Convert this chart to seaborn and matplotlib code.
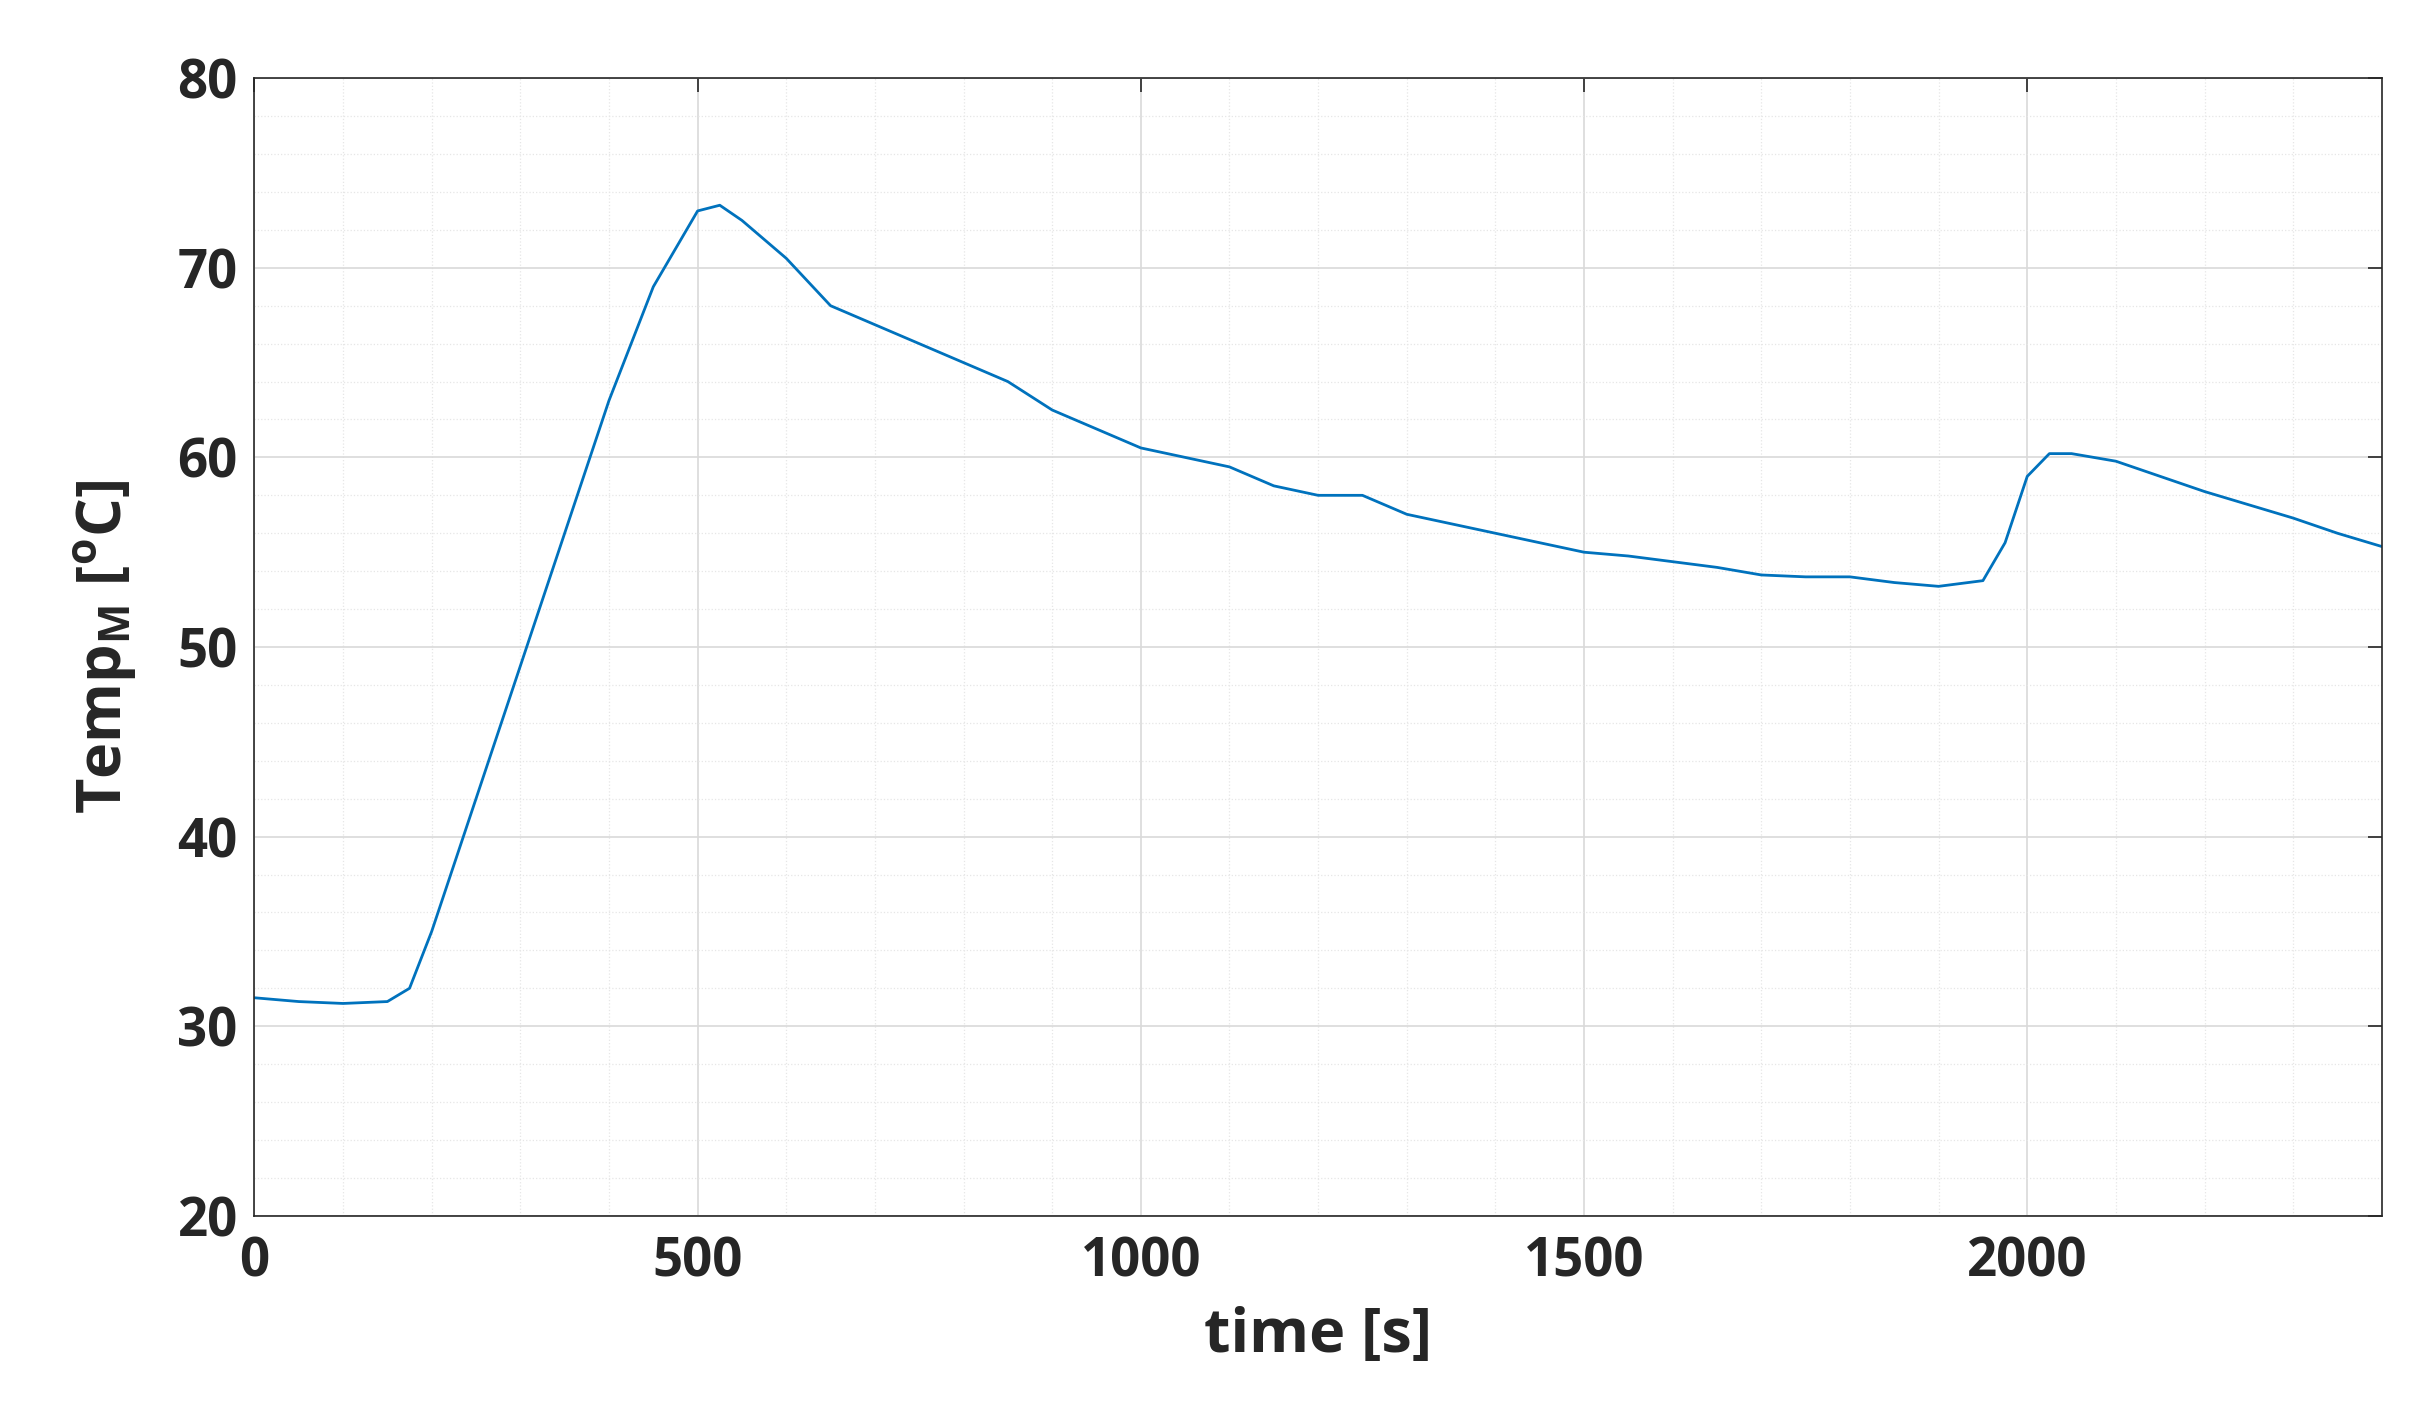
import matplotlib
matplotlib.use("Agg")
import matplotlib.pyplot as plt
import seaborn as sns
import pandas as pd
from matplotlib.ticker import MultipleLocator

time_s = [0,50,100,150,175,200,250,300,350,400,450,500,525,550,600,650,700,750,800,850,900,950,1000,1050,1100,1150,1200,1250,1300,1350,1400,1450,1500,1550,1600,1650,1700,1750,1800,1850,1900,1950,1975,2000,2025,2050,2100,2150,2200,2250,2300,2350,2400]
temp_c = [31.5,31.3,31.2,31.3,32.0,35.0,42.0,49.0,56.0,63.0,69.0,73.0,73.3,72.5,70.5,68.0,67.0,66.0,65.0,64.0,62.5,61.5,60.5,60.0,59.5,58.5,58.0,58.0,57.0,56.5,56.0,55.5,55.0,54.8,54.5,54.2,53.8,53.7,53.7,53.4,53.2,53.5,55.5,59.0,60.2,60.2,59.8,59.0,58.2,57.5,56.8,56.0,55.3]

df = pd.DataFrame({"t": time_s, "T": temp_c})
sns.set_style("white")
plt.rcParams['font.family'] = ['Open Sans', 'DejaVu Sans']
plt.rcParams['mathtext.fontset'] = 'custom'
plt.rcParams['mathtext.bf'] = 'Open Sans:bold'
plt.rcParams['mathtext.rm'] = 'Open Sans:bold'
fig = plt.figure(figsize=(24.23, 14.22), dpi=100)
ax = fig.add_axes([0.105, 0.145, 0.878, 0.80])
sns.lineplot(data=df, x="t", y="T", ax=ax, color="#0072BD", linewidth=2)
ax.set_xlim(0, 2400); ax.set_ylim(20, 80)
ax.xaxis.set_major_locator(MultipleLocator(500)); ax.xaxis.set_minor_locator(MultipleLocator(100))
ax.yaxis.set_major_locator(MultipleLocator(10)); ax.yaxis.set_minor_locator(MultipleLocator(2))
ax.grid(which="major", color="#d9d9d9", linewidth=1.2)
ax.grid(which="minor", color="#e6e6e6", linewidth=0.9, linestyle=":")
for s in ax.spines.values():
    s.set_color("#262626"); s.set_linewidth(1.2)
ax.tick_params(which="both", direction="in", top=True, right=True, labelsize=38, length=10, width=1.2, colors="#262626")
ax.tick_params(axis="x", pad=14)
ax.tick_params(axis="y", pad=12)
ax.tick_params(which="minor", length=0)
for l in ax.get_xticklabels() + ax.get_yticklabels():
    l.set_fontweight("bold")
ax.set_xlabel("time [s]", fontsize=44, fontweight="bold", color="#262626", labelpad=12)
ax.set_ylabel(r"Temp$_\mathbf{M}$ [$^\mathbf{o}$C]", fontsize=44, fontweight="bold", color="#262626", labelpad=28)
fig.savefig("out.png", dpi=100)
